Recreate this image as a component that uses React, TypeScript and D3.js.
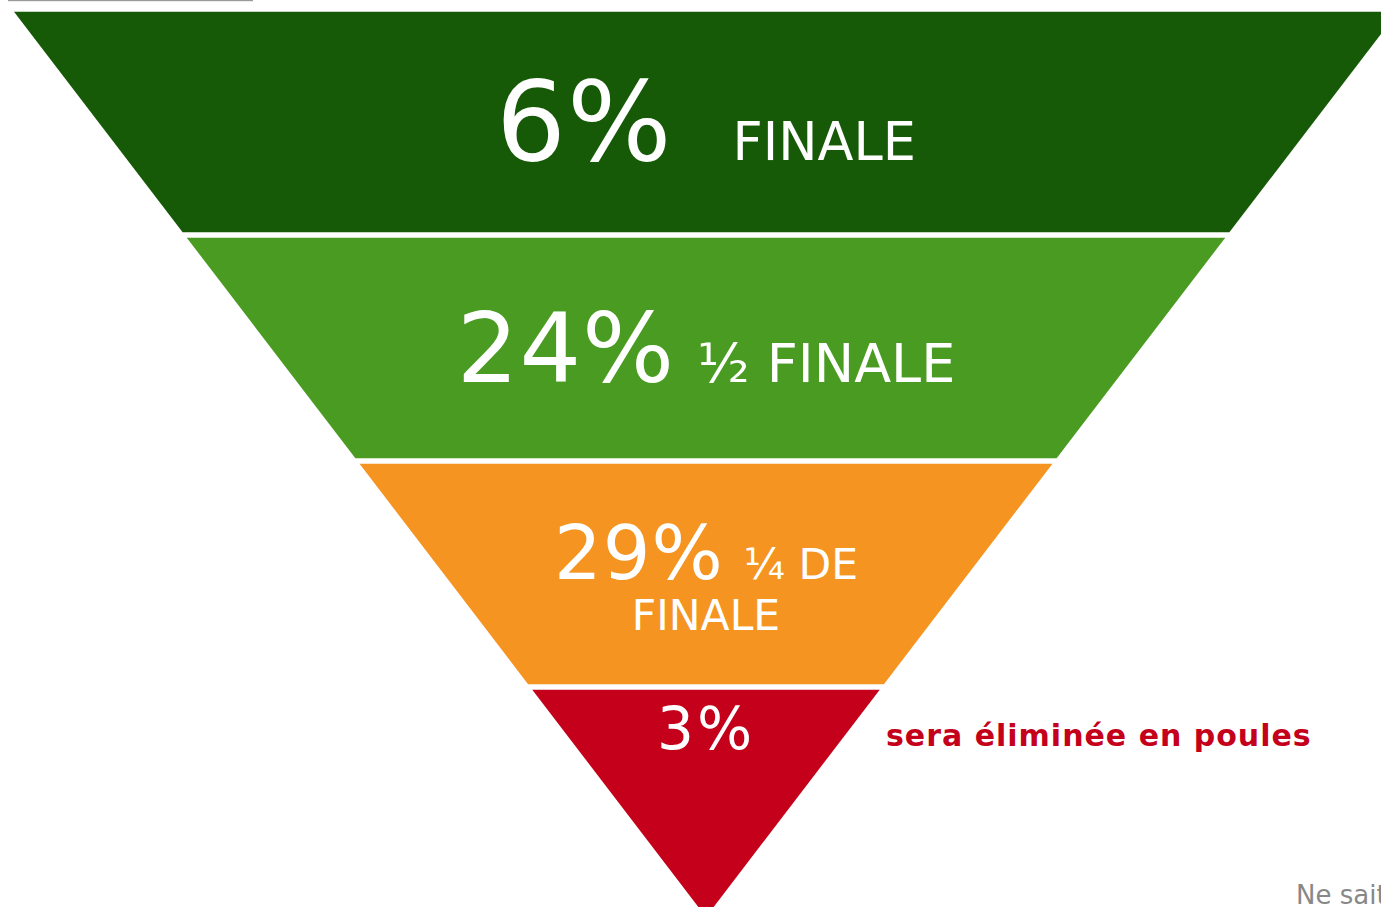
import React from "react";
import * as d3 from "d3";

// Funnel data (top to bottom)
const stages = ["finale", "demi", "quart", "poules"];
const values = [6, 24, 29, 3];
const labels = ["FINALE", "½ FINALE", "¼ DE\nFINALE", ""];
const sideNote = "sera éliminée en poules";
const footNote = "Ne sait pas";

const colors = ["#165a07", "#4a9b21", "#f59420", "#c4001a"];

// per-band text styling
const pctSizes = [110, 97, 75, 58];
const labelSizes = [52.5, 54, 42.5, 0];
const baselineOffsets = [148, 144, 115, 59];
const labelGaps = [60, 22, 20, 0];

const App = () => {
  const width = 1381;
  const height = 907;

  const top = 11.7;
  const apex = 917;
  const cx = 706;

  // Bands stacked vertically with a small white gap
  const yScale = d3
    .scaleBand()
    .domain(stages)
    .range([top, 910.3])
    .paddingInner(0.024)
    .paddingOuter(0);

  // Half-width of the funnel at a given y
  const halfWidth = d3.scaleLinear().domain([top, apex]).range([692, 0]).clamp(true);

  const bandPath = (stage) => {
    const y0 = yScale(stage);
    const y1 = Math.min(y0 + yScale.bandwidth(), apex);
    const path = d3.path();
    path.moveTo(cx - halfWidth(y0), y0);
    path.lineTo(cx + halfWidth(y0), y0);
    path.lineTo(cx + halfWidth(y1), y1);
    path.lineTo(cx - halfWidth(y1), y1);
    path.closePath();
    return path.toString();
  };

  const font = "'DejaVu Sans', Verdana, sans-serif";

  return (
    <svg
      width={width}
      height={height}
      style={{ position: "fixed", left: 0, top: 0, background: "#fff" }}
      fontFamily={font}
    >
      {/* leftover grey rule at the top */}
      <rect x={8} y={-1} width={245} height={2.2} fill="#9a9a9a" />

      {stages.map((stage, i) => {
        const y0 = yScale(stage);
        const lines = labels[i].split("\n");
        const baseline = y0 + baselineOffsets[i];
        return (
          <g key={stage}>
            <path d={bandPath(stage)} fill={colors[i]} />
            <text x={cx} y={baseline} textAnchor="middle" fill="#fff">
              <tspan fontSize={pctSizes[i]} letterSpacing={i === 3 ? 3 : 1}>
                {values[i]}%
              </tspan>
              {lines[0] ? (
                <tspan fontSize={labelSizes[i]} dx={labelGaps[i]} letterSpacing={0}>
                  {lines[0]}
                </tspan>
              ) : null}
            </text>
            {lines.slice(1).map((line, j) => (
              <text
                key={j}
                x={cx}
                y={baseline + (j + 1) * 51}
                textAnchor="middle"
                fill="#fff"
                fontSize={labelSizes[i]}
              >
                {line}
              </text>
            ))}
          </g>
        );
      })}

      <text x={886} y={745.7} fill="#c4001a" fontWeight="bold" fontSize={30} letterSpacing={1}>
        {sideNote}
      </text>

      <text x={1296} y={904} fill="#888" fontSize={26}>
        {footNote}
      </text>
    </svg>
  );
};

export default App;
